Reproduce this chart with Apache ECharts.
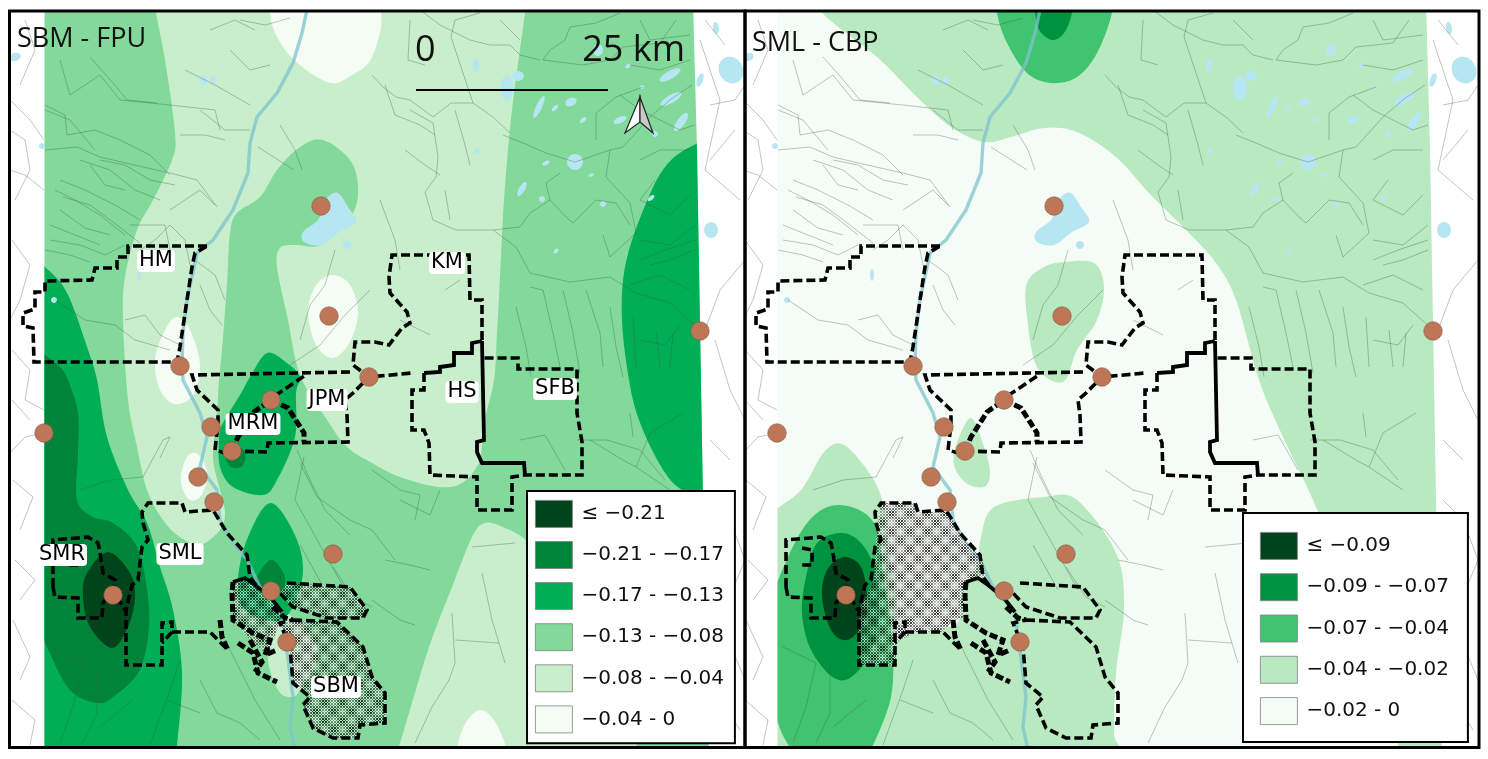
<!DOCTYPE html>
<html>
<head>
<meta charset="utf-8">
<title>SBM - FPU / SML - CBP</title>
<script src="https://cdn.jsdelivr.net/npm/echarts@6/dist/echarts.min.js"></script>
<style>
  html, body { margin: 0; padding: 0; background: #fff; }
  #chart { width: 1488px; height: 759px; }
</style>
</head>
<body>
<div id="chart"></div>
<script>
// map units: pixels of the left panel, the right panel shows the same map shifted by 733

// ---- legend classes
const leftClasses = ['≤ −0.21', '−0.21 - −0.17', '−0.17 - −0.13', '−0.13 - −0.08', '−0.08 - −0.04', '−0.04 - 0'];
const rightClasses = ['≤ −0.09', '−0.09 - −0.07', '−0.07 - −0.04', '−0.04 - −0.02', '−0.02 - 0'];

// ---- study area outline (the contours stop here)
const domain = [[44.5, 0], [693, 0], [697, 150], [703, 500], [709, 760], [44.5, 760]];
const wholeArea = [[20, -20], [760, -20], [760, 780], [20, 780]];

// ---- left panel contours (SBM - FPU)
const fpuMid = [wholeArea];
const fpuLight = [
  [[154, -10], [300, -14], [527, -10], [525, 13], [512, 110], [504, 200], [500, 277], [497, 333], [494, 380], [484, 423], [482, 447], [478, 465], [462, 483], [439, 487], [400, 477], [372, 463], [347, 447], [327, 420], [300, 375], [288, 320], [277, 267], [280, 248], [295, 245], [318, 246], [333, 233], [353, 213], [358, 187], [350, 160], [323, 140], [300, 147], [277, 170], [260, 197], [237, 213], [230, 233], [227, 283], [222, 350], [219, 380], [217, 413], [213, 457], [220, 490], [225, 513], [220, 530], [200, 545], [180, 537], [163, 520], [147, 490], [137, 447], [128, 400], [123, 320], [125, 277], [137, 230], [153, 200], [172, 160], [175, 133], [165, 60], [156, 13]],
  [[385, 790], [399, 746], [409, 713], [429, 647], [452, 587], [472, 537], [485, 523], [505, 528], [529, 543], [570, 590], [605, 680], [630, 790]],
  [[268, 660], [272, 625], [290, 615], [318, 650], [300, 690], [290, 697], [278, 690]]
];
const fpuWhite = [
  [[272, 5], [285, 50], [327, 82], [352, 75], [373, 55], [378, 5], [320, -25]],
  [[308, 312], [316, 285], [333, 275], [350, 285], [358, 312], [350, 342], [333, 358], [316, 345]],
  [[155, 360], [165, 330], [177, 317], [190, 330], [200, 365], [193, 395], [175, 404], [160, 390]],
  [[181, 475], [187, 457], [196, 453], [205, 465], [207, 480], [200, 497], [190, 500], [183, 490]],
  [[460, 760], [463, 728], [480, 710], [497, 725], [505, 760]]
];
const fpuStrong = [
  [[696, 144], [665, 167], [642, 213], [625, 267], [622, 320], [629, 380], [639, 420], [659, 463], [679, 488], [705, 495], [760, 495], [760, 120]],
  [[10, 240], [45, 267], [67, 293], [87, 347], [97, 380], [107, 437], [128, 490], [147, 523], [160, 567], [173, 610], [182, 673], [177, 745], [170, 800], [10, 800]],
  [[222, 425], [240, 395], [250, 377], [267, 353], [287, 363], [300, 377], [296, 393], [295, 437], [277, 480], [263, 495], [233, 487], [220, 467], [219, 440]],
  [[271, 503], [248, 537], [238, 580], [245, 610], [282, 620], [302, 580], [297, 540]]
];
const fpuDeep = [
  [[10, 330], [45, 355], [60, 367], [68, 380], [78, 413], [78, 453], [77, 500], [93, 517], [113, 523], [137, 547], [148, 597], [148, 637], [138, 673], [113, 697], [97, 703], [70, 690], [47, 647], [10, 560]],
  [[225, 452], [233, 445], [245, 452], [243, 465], [235, 468], [228, 464]],
  [[270, 560], [257, 577], [258, 590], [280, 593], [285, 580], [280, 567]]
];
const fpuDarkest = [
  [[108, 552], [87, 573], [83, 597], [90, 627], [112, 648], [128, 627], [135, 597], [130, 573]]
];

// ---- right panel contours (SML - CBP)
const cbpWhite = [wholeArea];
const cbpLight = [
  [[75, -15], [89, 13], [144, 57], [184, 97], [218, 127], [251, 142], [278, 137], [311, 128], [344, 132], [383, 157], [416, 193], [453, 230], [483, 263], [503, 300], [526, 380], [550, 437], [583, 507], [610, 580], [650, 700], [690, 790], [770, 790], [770, -20], [400, -30]],
  [[331, 262], [361, 263], [371, 287], [364, 320], [344, 350], [330, 382], [304, 367], [294, 317], [294, 283], [311, 267]],
  [[238, 418], [224, 443], [221, 465], [233, 483], [251, 487], [257, 473], [251, 447]],
  [[111, 445], [91, 452], [68, 490], [30, 525], [10, 600], [10, 790], [385, 790], [381, 735], [383, 673], [391, 607], [383, 553], [344, 500], [311, 497], [261, 507], [248, 537], [244, 567], [229, 593], [224, 623], [178, 633], [164, 637], [161, 587], [154, 540], [151, 507], [139, 477]]
];
const cbpMid = [
  [[262, -20], [264, 13], [274, 43], [294, 73], [318, 83], [344, 77], [364, 53], [379, 13], [381, -20]],
  [[106, 505], [74, 523], [44, 583], [25, 650], [44, 720], [58, 750], [80, 790], [120, 790], [138, 750], [158, 697], [159, 640], [151, 580], [141, 523]]
];
const cbpStrong = [
  [[298, -15], [302, 13], [306, 30], [319, 40], [331, 33], [339, 13], [342, -15]],
  [[109, 533], [84, 543], [73, 577], [69, 613], [78, 650], [101, 678], [121, 675], [141, 643], [146, 600], [141, 567], [128, 543]]
];
const cbpDarkest = [
  [[111, 557], [94, 570], [89, 597], [98, 630], [114, 640], [131, 623], [134, 597], [128, 567]]
];

// ---- management unit boundaries
const dashedBoundaries = [
  [[207, 246], [132, 246], [128, 246], [128, 257], [117, 257], [117, 268], [95, 268], [92, 280], [45, 281], [45, 292], [35, 292], [35, 309], [23, 313], [23, 326], [33, 328], [34, 362], [177, 362], [180, 347], [187, 300], [192, 267], [195, 253], [207, 246]],
  [[482, 340], [482, 300], [470, 300], [469, 255], [392, 255], [389, 277], [390, 293], [407, 312], [410, 323], [402, 328], [389, 345], [375, 342], [355, 342], [353, 365], [369, 377], [412, 373]],
  [[424, 373], [424, 390], [412, 390], [412, 430], [424, 430], [429, 443], [430, 475], [477, 477], [477, 510], [512, 510], [512, 477], [525, 475], [582, 475], [582, 442], [577, 413], [577, 369], [518, 369], [518, 358], [482, 358]],
  [[350, 372], [192, 375], [197, 390], [218, 410], [218, 425], [215, 450], [225, 453]],
  [[232, 451], [267, 452], [268, 443], [348, 442], [347, 415], [345, 400], [353, 393], [369, 377]],
  [[264, 403], [288, 387], [307, 374]],
  [[256, 585], [250, 577], [247, 555], [227, 533], [213, 510], [185, 512], [182, 503], [148, 503], [142, 512], [143, 523], [148, 540], [142, 547], [138, 580], [132, 585], [126, 610], [126, 665], [162, 665], [162, 623], [172, 622], [172, 632], [162, 643]],
  [[172, 632], [182, 632], [210, 632], [228, 650]],
  [[53, 587], [53, 540], [88, 537], [98, 543], [100, 553], [103, 573], [115, 580], [113, 590], [125, 610]],
  [[53, 587], [55, 597], [78, 598], [78, 618], [102, 618], [103, 603], [113, 590]],
  [[69, 548], [79, 550], [79, 565], [69, 565]],
  [[287, 583], [350, 587], [367, 610], [363, 618], [327, 618], [293, 607], [280, 593]],
  [[293, 620], [337, 622], [363, 647], [372, 677], [385, 693], [385, 723], [360, 725], [358, 738], [333, 738], [313, 728], [303, 705], [310, 697], [293, 683], [290, 647], [280, 623], [293, 620]]
];
const solidBoundaries = [
  [[482, 341], [472, 343], [472, 353], [454, 353], [454, 365], [440, 367], [440, 372], [424, 373]],
  [[482, 341], [484, 440], [477, 442], [477, 452], [482, 463], [524, 463], [525, 475]],
  [[233, 582], [245, 578], [255, 585], [271, 598], [282, 612]]
];
const heavyBoundaries = [
  [[232, 451], [238, 437], [254, 412], [271, 400], [288, 408], [304, 433], [304, 442]],
  [[233, 582], [232, 593], [233, 620], [253, 633], [270, 640], [265, 655], [277, 650]],
  [[220, 620], [222, 637], [228, 650]],
  [[238, 643], [253, 653], [258, 673], [277, 682]],
  [[250, 640], [262, 662], [255, 672]],
  [[273, 607], [285, 618], [293, 620]]
];

// ---- hatched parts
const sbmUpper = [[287, 583], [350, 587], [367, 610], [363, 618], [327, 618], [293, 607], [280, 593]];
const sbmLower = [[293, 620], [337, 622], [363, 647], [372, 677], [385, 693], [385, 723], [360, 725], [358, 738], [333, 738], [313, 728], [303, 705], [310, 697], [293, 683], [290, 647], [280, 623]];
const sbmWest = [[233, 582], [245, 578], [255, 585], [271, 598], [282, 612], [277, 630], [268, 655], [250, 640], [233, 620]];
const smlArea = [[148, 503], [183, 503], [186, 512], [214, 512], [231, 540], [249, 557], [253, 580], [234, 578], [231, 590], [231, 617], [218, 622], [211, 632], [181, 632], [163, 643], [163, 665], [126, 665], [126, 610], [141, 580], [143, 540]];

// ---- sites
const sites = [[320, 8], [321, 206], [329, 316], [700, 331], [180, 366], [369, 377], [271, 400], [211, 427], [44, 433], [232, 451], [198, 477], [214, 502], [333, 554], [271, 591], [113, 595], [287, 642], [480, 750]];

// ---- unit names, left panel only
const unitNames = ['HM', 'KM', 'JPM', 'HS', 'SFB', 'MRM', 'SMR', 'SML', 'SBM'];
const unitSpots = [[156, 261], [447, 263], [327, 400], [462, 392], [555, 389], [253, 424], [62, 555], [180, 554], [336, 687]];

// ---- hydrography
const mainRiver = [[308, 5], [302, 33], [293, 63], [277, 93], [257, 117], [250, 143], [248, 173], [233, 210], [213, 240], [197, 253], [187, 300], [183, 333], [182, 363], [183, 380], [200, 413], [207, 437], [200, 467], [217, 490], [220, 520], [233, 543], [247, 560], [260, 587], [282, 613], [293, 697], [290, 727], [295, 750]];
const streams = [
  [[480, 13], [455, 20], [451, 37], [461, 67], [473, 103], [493, 117], [510, 133]],
  [[473, 103], [451, 103], [433, 117], [410, 100], [396, 97], [383, 87], [372, 75]],
  [[493, 230], [456, 230], [433, 220], [425, 192], [436, 177], [438, 157], [433, 123], [410, 110]],
  [[493, 230], [516, 247], [530, 273], [570, 282], [610, 277], [636, 293], [670, 303], [700, 330]],
  [[493, 230], [520, 227], [530, 213], [550, 200], [566, 217], [573, 223], [596, 200], [616, 203], [630, 225]],
  [[550, 200], [546, 183], [560, 173]],
  [[543, 60], [583, 65], [610, 60], [623, 47], [660, 43], [676, 20]],
  [[543, 60], [550, 50], [565, 40], [570, 27], [596, 23], [620, 13]],
  [[503, 135], [523, 143], [546, 153], [575, 162], [610, 150], [623, 147], [650, 117], [671, 99], [692, 85]],
  [[596, 140], [596, 113], [616, 97], [643, 87]],
  [[610, 150], [606, 177], [630, 203], [636, 233], [610, 257], [603, 235]],
  [[530, 287], [543, 290], [553, 333], [560, 367]],
  [[563, 290], [573, 333], [580, 373]],
  [[586, 290], [600, 333], [603, 367]],
  [[610, 307], [616, 347], [623, 377]],
  [[516, 307], [526, 347], [531, 377]],
  [[633, 317], [636, 367]],
  [[656, 330], [660, 367]],
  [[673, 333], [670, 367]],
  [[45, 150], [77, 147], [100, 157], [143, 167], [170, 173], [197, 180], [217, 207]],
  [[63, 197], [90, 205], [113, 222], [140, 243]],
  [[50, 240], [80, 245], [105, 255], [125, 245]],
  [[60, 210], [85, 228], [110, 235]],
  [[90, 165], [105, 185], [125, 190]],
  [[60, 60], [70, 95], [100, 75], [120, 100], [170, 105], [215, 110], [220, 130]],
  [[45, 110], [70, 120], [95, 150]],
  [[170, 210], [200, 190], [215, 205]],
  [[130, 225], [165, 225], [170, 250]],
  [[10, 170], [25, 175], [44, 190]],
  [[10, 100], [30, 120], [44, 140]],
  [[12, 240], [30, 265], [20, 300], [10, 320]],
  [[185, 70], [215, 85], [250, 105]],
  [[240, 20], [265, 25], [290, 18]],
  [[280, 125], [295, 150], [302, 170]],
  [[258, 147], [294, 170]],
  [[452, 613], [455, 663], [449, 680], [432, 707], [415, 743]],
  [[482, 573], [492, 620], [505, 663]],
  [[455, 640], [499, 643]],
  [[472, 547], [515, 543]],
  [[300, 463], [317, 497], [350, 520], [372, 530], [395, 560]],
  [[333, 567], [353, 597], [372, 607]],
  [[50, 647], [83, 663], [73, 707], [60, 743]],
  [[97, 667], [97, 713], [83, 743]],
  [[133, 700], [100, 727]],
  [[200, 680], [217, 713], [240, 723], [260, 740]],
  [[167, 700], [200, 713]],
  [[10, 453], [25, 437], [44, 433]],
  [[13, 480], [33, 497], [20, 530]],
  [[13, 620], [30, 657], [20, 680]],
  [[80, 490], [110, 480], [143, 477], [163, 440], [170, 437], [160, 458]],
  [[577, 440], [607, 440], [640, 450], [665, 480]],
  [[520, 440], [545, 435], [565, 470]],
  [[590, 440], [623, 460], [636, 467], [650, 433], [683, 413]],
  [[636, 467], [670, 490]],
  [[630, 413], [633, 437]],
  [[304, 457], [295, 500], [345, 590]],
  [[335, 250], [325, 285], [310, 305], [300, 340]],
  [[370, 290], [345, 315], [320, 345], [290, 365]],
  [[700, 40], [720, 100], [705, 170], [740, 200]],
  [[735, 130], [710, 160]],
  [[745, 260], [720, 290], [705, 330]],
  [[715, 340], [730, 390], [745, 420]],
  [[710, 500], [730, 520], [745, 560], [720, 620], [745, 680]],
  [[715, 690], [740, 730]],
  [[90, 57], [113, 83], [127, 100], [157, 103]],
  [[45, 105], [65, 115], [67, 135], [95, 130], [120, 140], [150, 155], [170, 175]],
  [[55, 190], [75, 200], [100, 215], [125, 235]],
  [[60, 180], [85, 190], [115, 205], [140, 220]],
  [[80, 160], [110, 170], [135, 190], [160, 200]],
  [[100, 160], [125, 165], [150, 180], [175, 185]],
  [[50, 225], [75, 235], [100, 245]],
  [[45, 250], [70, 255], [90, 262]],
  [[140, 250], [155, 240], [170, 225], [185, 240], [190, 265]],
  [[195, 260], [215, 275], [225, 300]],
  [[200, 285], [210, 310], [222, 325]],
  [[125, 320], [145, 315], [160, 335], [180, 345]],
  [[55, 300], [85, 320], [115, 325], [135, 340], [170, 350]],
  [[385, 85], [395, 115], [420, 125], [435, 135]],
  [[410, 20], [408, 60], [425, 65]],
  [[420, 10], [440, 25], [470, 40], [490, 45]],
  [[490, 45], [510, 45], [520, 55], [540, 60]],
  [[500, 20], [520, 40]],
  [[640, 20], [650, 40], [690, 35]],
  [[630, 65], [660, 70], [690, 60]],
  [[620, 95], [640, 110], [680, 130], [695, 125]],
  [[640, 160], [660, 150], [690, 150]],
  [[655, 180], [640, 200], [670, 215], [690, 195]],
  [[640, 240], [670, 245], [695, 225]],
  [[650, 265], [670, 260], [695, 250]],
  [[640, 260], [665, 250], [695, 240]],
  [[630, 285], [660, 275], [690, 290]],
  [[640, 340], [665, 345], [680, 325]],
  [[372, 470], [400, 490], [420, 495], [415, 520]],
  [[385, 560], [410, 565], [430, 570]],
  [[372, 600], [400, 620], [415, 625]],
  [[400, 500], [430, 515], [440, 490]],
  [[297, 450], [310, 480], [325, 510], [350, 535]],
  [[300, 545], [325, 590]],
  [[225, 640], [240, 670], [255, 700], [280, 740]],
  [[180, 660], [170, 690], [150, 745]],
  [[10, 130], [25, 140], [30, 170], [15, 200]],
  [[12, 350], [30, 370], [25, 400], [44, 410]],
  [[12, 400], [30, 420]],
  [[15, 560], [35, 580], [20, 600]],
  [[12, 700], [35, 720], [30, 745]],
  [[25, 20], [35, 50], [20, 85]],
  [[705, 20], [725, 45]],
  [[710, 105], [735, 100], [745, 85]],
  [[710, 440], [730, 460]],
  [[210, 30], [235, 20], [255, 30]],
  [[230, 50], [250, 70], [270, 65]],
  [[200, 110], [225, 130], [250, 130]],
  [[180, 135], [205, 135], [225, 140]],
  [[380, 200], [395, 240], [400, 270]],
  [[445, 190], [450, 220]],
  [[405, 150], [425, 165], [440, 175]],
  [[455, 110], [465, 145], [470, 165]],
  [[400, 320], [430, 335]],
  [[445, 290], [460, 280]]
];
// center x, center y, radius x, radius y, tilt in degrees
const lakes = [
  [598, 50, 5, 6, 0], [670, 75, 12, 4, -30], [671, 99, 12, 4, -30], [681, 122, 11, 4, -55], [620, 120, 7, 3, -25],
  [571, 102, 6, 4, -25], [583, 120, 4, 2, -40], [539, 107, 12, 3, -65], [555, 108, 4, 2, -45], [655, 134, 3, 3, 0],
  [575, 162, 8, 8, 0], [546, 163, 4, 2, -30], [591, 175, 3, 1.5, -20], [522, 189, 8, 3, -60], [542, 199, 3, 3, 0],
  [603, 204, 3, 3, 0], [651, 198, 4, 2, -40], [556, 251, 3, 2, -50], [476, 65, 3, 7, 0], [477, 151, 3, 3, 0],
  [628, 66, 3, 2, -40], [642, 87, 2, 2, 0], [507, 88, 7, 12, 0], [518, 76, 6, 5, 0],
  [731, 70, 12, 14, -30], [711, 230, 7, 8, 0], [716, 28, 3, 6, -10], [700, 80, 3, 7, 20],
  [203, 80, 4, 5, 0], [213, 80, 3, 4, 0], [42, 146, 3, 3, 0], [15, 57, 6, 4, -20], [139, 275, 2, 6, 0], [54, 300, 3, 3, 0], [347, 245, 4, 4, 0]
];
const bigLake = [[338, 193], [348, 207], [356, 222], [339, 232], [321, 245], [304, 242], [303, 232], [318, 220], [323, 207], [328, 197]];

// ---- scale bar and north arrow
const scaleBar = [[416, 90], [608, 90]];
const arrowLeft = [[640, 97], [625, 133], [640, 122]];
const arrowRight = [[640, 97], [653, 133], [640, 122]];

// closed Catmull-Rom, so that contours come out round
function spline(pts) {
  const out = [], n = pts.length;
  for (let i = 0; i < n; i++) {
    const a = pts[(i - 1 + n) % n], b = pts[i], c = pts[(i + 1) % n], d = pts[(i + 2) % n];
    for (let k = 0; k < 10; k++) {
      const t = k / 10, t2 = t * t, t3 = t2 * t;
      out.push([
        0.5 * (2 * b[0] + (c[0] - a[0]) * t + (2 * a[0] - 5 * b[0] + 4 * c[0] - d[0]) * t2 + (3 * b[0] - a[0] - 3 * c[0] + d[0]) * t3),
        0.5 * (2 * b[1] + (c[1] - a[1]) * t + (2 * a[1] - 5 * b[1] + 4 * c[1] - d[1]) * t2 + (3 * b[1] - a[1] - 3 * c[1] + d[1]) * t3)
      ]);
    }
  }
  return out;
}

function ellipsePoints(l) {
  const out = [], r = l[4] * Math.PI / 180;
  for (let k = 0; k < 16; k++) {
    const a = k / 16 * Math.PI * 2, x = l[2] * Math.cos(a), y = l[3] * Math.sin(a);
    out.push([l[0] + x * Math.cos(r) - y * Math.sin(r), l[1] + x * Math.sin(r) + y * Math.cos(r)]);
  }
  return out;
}

// hatch fill: fine lattice with larger pale spots
function hatchTile() {
  const size = 18, c = document.createElement('canvas');
  c.width = c.height = size;
  const g = c.getContext('2d'), img = g.createImageData(size, size);
  for (let y = 0; y < size; y++) {
    for (let x = 0; x < size; x++) {
      const u = x + y, v = x - y + size, i = (y * size + x) * 4;
      const m = 0.5 + 0.25 * (Math.cos(2 * Math.PI * u / 18) + Math.cos(2 * Math.PI * v / 18));
      const dark = (u % 3 === 0 || v % 3 === 0);
      const shade = dark ? 20 : 255;
      img.data[i] = img.data[i + 1] = img.data[i + 2] = shade;
      img.data[i + 3] = dark ? 255 * (0.2 + 0.7 * m) : 255 * (0.15 + 0.55 * (1 - m));
    }
  }
  g.putImageData(img, 0, 0);
  return c;
}
const hatch = { image: hatchTile(), repeat: 'repeat' };

function contour(name, color, polys, panel, z) {
  return {
    type: 'custom', name: name, coordinateSystem: 'cartesian2d',
    xAxisIndex: panel, yAxisIndex: panel, z: z, clip: true, silent: true,
    itemStyle: { color: color },
    data: polys.map(p => p[0]),
    renderItem: function (params, api) {
      return {
        type: 'polygon',
        shape: { points: spline(polys[params.dataIndex]).map(p => api.coord(p)) },
        style: { fill: color },
        clipPath: { type: 'polygon', shape: { points: domain.map(p => api.coord(p)) } }
      };
    }
  };
}

function polygons(polys, panel, z, style) {
  return {
    type: 'custom', coordinateSystem: 'cartesian2d',
    xAxisIndex: panel, yAxisIndex: panel, z: z, clip: true, silent: true,
    data: polys.map(p => p[0]),
    renderItem: function (params, api) {
      return { type: 'polygon', shape: { points: polys[params.dataIndex].map(p => api.coord(p)) }, style: style };
    }
  };
}

function lines(list, panel, z, style) {
  return {
    type: 'custom', coordinateSystem: 'cartesian2d',
    xAxisIndex: panel, yAxisIndex: panel, z: z, clip: true, silent: true,
    data: list.map(p => p[0]),
    renderItem: function (params, api) {
      return { type: 'polyline', shape: { points: list[params.dataIndex].map(p => api.coord(p)) }, style: Object.assign({ fill: null }, style) };
    }
  };
}

// everything the two panels have in common
function basemap(panel) {
  return [
    polygons(lakes.map(ellipsePoints).concat([spline(bigLake)]), panel, 8, { fill: '#b5e6f2', blend: 'multiply' }),
    lines(streams, panel, 9, { stroke: 'rgba(60,85,75,0.42)', lineWidth: 0.8 }),
    lines([mainRiver], panel, 9, { stroke: 'rgba(125,195,205,0.75)', lineWidth: 3.4 }),
    lines(dashedBoundaries, panel, 11, { stroke: '#000', lineWidth: 3.6, lineDash: [9, 4] }),
    lines(solidBoundaries, panel, 11, { stroke: '#000', lineWidth: 3.8 }),
    lines(heavyBoundaries, panel, 11, { stroke: '#000', lineWidth: 5, lineDash: [8, 3] }),
    {
      type: 'scatter', xAxisIndex: panel, yAxisIndex: panel, z: 12, silent: true,
      symbolSize: 18.5, data: sites,
      itemStyle: { color: '#bf7656', opacity: 1, borderColor: '#7a5a48', borderWidth: 0.6 }
    }
  ];
}

const series = [
  contour(leftClasses[3], '#82d99a', fpuMid, 0, 1),
  contour(leftClasses[4], '#c8eecc', fpuLight, 0, 2),
  contour(leftClasses[5], '#f4fcf4', fpuWhite, 0, 3),
  contour(leftClasses[2], '#00ae56', fpuStrong, 0, 4),
  contour(leftClasses[1], '#00843a', fpuDeep, 0, 5),
  contour(leftClasses[0], '#00441b', fpuDarkest, 0, 6),
  contour(rightClasses[4], '#f4fcf5', cbpWhite, 1, 1),
  contour(rightClasses[3], '#b8e9c0', cbpLight, 1, 2),
  contour(rightClasses[2], '#41c46f', cbpMid, 1, 3),
  contour(rightClasses[1], '#00933f', cbpStrong, 1, 4),
  contour(rightClasses[0], '#00441b', cbpDarkest, 1, 5),
  polygons([sbmUpper, sbmLower, sbmWest], 0, 10, { fill: hatch }),
  polygons([smlArea], 1, 10, { fill: hatch })
].concat(basemap(0), basemap(1), [
  lines([scaleBar], 0, 13, { stroke: '#000', lineWidth: 2 }),
  polygons([arrowLeft], 0, 13, { fill: '#fff', stroke: '#222', lineWidth: 1.2 }),
  polygons([arrowRight], 0, 13, { fill: '#c9c9c9', stroke: '#222', lineWidth: 1.2 }),
  {
    type: 'scatter', xAxisIndex: 0, yAxisIndex: 0, z: 13, silent: true, symbolSize: 0,
    data: unitNames.map((n, i) => ({ name: n, value: unitSpots[i] })),
    itemStyle: { opacity: 1 },
    label: {
      show: true, position: 'inside', formatter: '{b}', color: '#000',
      fontFamily: 'DejaVu Sans', fontSize: 21,
      backgroundColor: '#fff', borderRadius: 4, padding: [1, 2, 0, 2]
    }
  }
]);

const legendBase = {
  orient: 'vertical', icon: 'rect', itemWidth: 37, itemHeight: 27, z: 20,
  selectedMode: false, backgroundColor: '#fff', borderColor: '#000', borderWidth: 2,
  itemStyle: { borderColor: '#808080', borderWidth: 0.8 },
  textStyle: { fontFamily: 'DejaVu Sans', fontSize: 20, color: '#111', padding: [0, 0, 0, 4] }
};

const chart = echarts.init(document.getElementById('chart'), null, { renderer: 'canvas' });
chart.setOption({
  animation: false,
  backgroundColor: '#fff',
  title: [
    { text: 'SBM - FPU', left: 12, top: 21, z: 20, textStyle: { fontFamily: 'Open Sans', fontWeight: 'normal', fontSize: 27, color: '#111' } },
    { text: 'SML - CBP', left: 747, top: 25, z: 20, textStyle: { fontFamily: 'Open Sans', fontWeight: 'normal', fontSize: 27, color: '#111' } },
    { text: '0', left: 410, top: 28, z: 20, textStyle: { fontFamily: 'Open Sans', fontWeight: 'normal', fontSize: 36, color: '#111' } },
    { text: '25 km', right: 798, top: 28, z: 20, textStyle: { fontFamily: 'Open Sans', fontWeight: 'normal', fontSize: 36, color: '#111' } }
  ],
  legend: [
    Object.assign({}, legendBase, { data: leftClasses, left: 527, top: 491, itemGap: 13.3, padding: [9, 11, 10, 8] }),
    Object.assign({}, legendBase, { data: rightClasses, left: 1243, top: 513, itemGap: 13.5, padding: [19, 19, 17, 17] })
  ],
  grid: [
    { left: 9.5, top: 11, width: 735.5, height: 736.5 },
    { left: 745, top: 11, width: 734, height: 736.5 }
  ],
  xAxis: [
    { type: 'value', gridIndex: 0, min: 9.5, max: 745, show: false },
    { type: 'value', gridIndex: 1, min: 12, max: 746, show: false }
  ],
  yAxis: [
    { type: 'value', gridIndex: 0, min: 11, max: 747.5, inverse: true, show: false },
    { type: 'value', gridIndex: 1, min: 11, max: 747.5, inverse: true, show: false }
  ],
  graphic: [
    { type: 'rect', z: 30, silent: true, shape: { x: 9.5, y: 11, width: 735.5, height: 736.5 }, style: { fill: null, stroke: '#000', lineWidth: 3 } },
    { type: 'rect', z: 30, silent: true, shape: { x: 745, y: 11, width: 734, height: 736.5 }, style: { fill: null, stroke: '#000', lineWidth: 3 } }
  ],
  series: series
});
</script>
</body>
</html>
